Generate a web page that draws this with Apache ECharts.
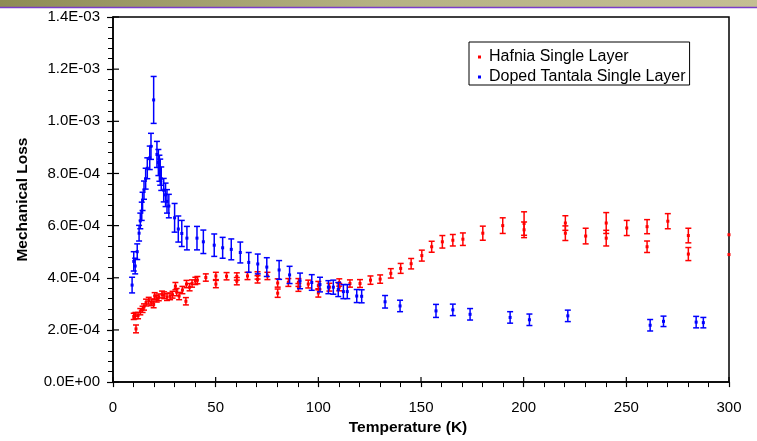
<!DOCTYPE html>
<html>
<head>
<meta charset="utf-8">
<title>Mechanical Loss vs Temperature</title>
<script src="https://cdn.jsdelivr.net/npm/echarts@6/dist/echarts.min.js"></script>
<style>
  html, body { margin: 0; padding: 0; background: #fff; }
  #chart { width: 757px; height: 441px; }
</style>
</head>
<body>
<div id="chart"></div>
<script>
// Mechanical loss values are listed in units of 1e-4.
const LOSS_UNIT = 1e-4;

// Hafnia single layer: temperature (K), loss, error half-width
const hafniaT = [10.1, 10.9, 11.2, 12.2, 13.3, 14.4, 15.1, 16.1, 17.4, 18.7, 19.8, 20.3, 21.3, 22.3, 23.9, 24.9, 26.3, 27.8, 29.0, 30.4, 31.0, 32.2, 33.8, 35.5, 35.8, 37.3, 38.5, 40.1, 41.1, 45.2, 50.1, 50.1, 55.3, 60.3, 60.3, 65.5, 70.4, 70.4, 75.2, 80.2, 80.2, 85.4, 90.3, 90.3, 95.1, 100.0, 100.0, 105.4, 110.2, 110.2, 115.4, 120.3, 125.4, 130.1, 135.3, 140.1, 145.2, 150.4, 155.2, 160.4, 165.5, 170.4, 180.1, 189.8, 200.2, 200.2, 220.3, 220.3, 230.2, 240.2, 240.2, 250.2, 260.1, 260.1, 270.2, 280.2, 280.2, 300.0, 300.0];
const hafniaLoss = [2.52, 2.55, 2.04, 2.55, 2.70, 2.79, 2.88, 3.05, 3.12, 3.06, 2.98, 3.30, 3.20, 3.25, 3.36, 3.33, 3.26, 3.29, 3.35, 3.68, 3.45, 3.30, 3.53, 3.10, 3.76, 3.64, 3.78, 3.88, 3.91, 4.01, 4.07, 3.76, 4.06, 4.05, 3.87, 4.07, 4.09, 3.94, 4.07, 3.80, 3.41, 3.82, 3.82, 3.63, 3.76, 3.70, 3.42, 3.64, 3.82, 3.64, 3.78, 3.78, 3.91, 3.95, 4.17, 4.36, 4.54, 4.85, 5.19, 5.38, 5.44, 5.48, 5.71, 6.00, 6.08, 5.84, 6.10, 5.71, 5.60, 6.10, 5.52, 5.91, 5.96, 5.19, 6.17, 5.62, 4.91, 5.65, 4.89];
const hafniaErr = [0.12, 0.12, 0.15, 0.12, 0.12, 0.12, 0.12, 0.13, 0.13, 0.13, 0.13, 0.13, 0.13, 0.13, 0.13, 0.13, 0.13, 0.13, 0.13, 0.14, 0.14, 0.14, 0.14, 0.14, 0.14, 0.14, 0.14, 0.14, 0.14, 0.14, 0.14, 0.14, 0.14, 0.14, 0.14, 0.14, 0.14, 0.14, 0.14, 0.16, 0.16, 0.15, 0.15, 0.15, 0.15, 0.16, 0.16, 0.15, 0.14, 0.14, 0.14, 0.15, 0.16, 0.16, 0.18, 0.19, 0.20, 0.21, 0.21, 0.24, 0.22, 0.24, 0.27, 0.30, 0.45, 0.30, 0.28, 0.28, 0.30, 0.40, 0.30, 0.29, 0.27, 0.22, 0.29, 0.28, 0.25, 0, 0];

// Doped tantala single layer: temperature (K), loss, error half-width
const tantalaT = [9.3, 10.1, 10.8, 11.8, 12.7, 13.3, 14.0, 14.4, 15.1, 15.9, 16.7, 17.9, 18.5, 19.8, 21.4, 22.1, 22.6, 23.0, 23.5, 24.7, 25.6, 26.3, 27.2, 30.0, 31.8, 33.5, 36.0, 40.9, 44.0, 49.3, 53.4, 57.6, 62.0, 66.1, 70.5, 74.9, 80.9, 86.0, 91.1, 96.8, 100.8, 104.9, 107.3, 109.7, 112.2, 114.1, 118.7, 121.1, 132.5, 139.8, 157.3, 165.5, 173.9, 193.4, 202.8, 221.5, 261.6, 268.1, 284.0, 287.5];
const tantalaLoss = [3.72, 4.63, 4.45, 5.00, 5.71, 6.18, 6.55, 6.93, 7.36, 7.80, 8.20, 8.60, 9.04, 10.82, 8.73, 8.42, 8.20, 8.05, 7.80, 7.36, 7.18, 6.93, 6.75, 6.30, 5.87, 5.70, 5.52, 5.52, 5.38, 5.25, 5.15, 5.09, 4.97, 4.59, 4.53, 4.41, 4.30, 4.11, 3.88, 3.82, 3.74, 3.64, 3.64, 3.55, 3.47, 3.47, 3.30, 3.29, 3.08, 2.92, 2.73, 2.77, 2.60, 2.48, 2.39, 2.54, 2.18, 2.33, 2.30, 2.28];
const tantalaErr = [0.30, 0.37, 0.30, 0.30, 0.30, 0.30, 0.35, 0.35, 0.35, 0.40, 0.40, 0.45, 0.50, 0.90, 0.50, 0.50, 0.50, 0.50, 0.45, 0.45, 0.45, 0.45, 0.45, 0.55, 0.50, 0.50, 0.45, 0.45, 0.45, 0.43, 0.40, 0.40, 0.40, 0.38, 0.38, 0.36, 0.36, 0.33, 0.30, 0.30, 0.28, 0.25, 0.27, 0.27, 0.27, 0.27, 0.25, 0.25, 0.24, 0.22, 0.25, 0.22, 0.22, 0.22, 0.22, 0.22, 0.22, 0.20, 0.22, 0.20];

// Axis ticks
const xTicks = [0, 50, 100, 150, 200, 250, 300];
const yTicks = [0, 2e-4, 4e-4, 6e-4, 8e-4, 10e-4, 12e-4, 14e-4];

const seriesNames = ['Hafnia Single Layer', 'Doped Tantala Single Layer'];
const seriesColors = ['#ff0000', '#0000ff'];

function rows(t, loss, err) {
  return t.map((v, i) => [v, loss[i] * LOSS_UNIT, err[i] * LOSS_UNIT]);
}

// 1.4E-03 style labels
function sci(v) {
  const parts = v.toExponential(1).split('e');
  const n = parseInt(parts[1], 10);
  return parts[0] + 'E' + (n < 0 ? '-' : '+') + String(Math.abs(n)).padStart(2, '0');
}

// point with vertical error bar and caps
function errorBar(color) {
  return function (params, api) {
    const x = api.value(0), y = api.value(1), e = api.value(2);
    const c = api.coord([x, y]);
    const hi = api.coord([x, y + e])[1];
    const lo = api.coord([x, y - e])[1];
    const cap = 3;
    const line = { stroke: color, lineWidth: 1.5, fill: null };
    const children = [
      { type: 'rect', shape: { x: c[0] - 1.5, y: c[1] - 1.5, width: 3, height: 3 }, style: { fill: color } }
    ];
    if (e > 0) {
      children.push(
        { type: 'line', shape: { x1: c[0], y1: hi, x2: c[0], y2: lo }, style: line },
        { type: 'line', shape: { x1: c[0] - cap, y1: hi, x2: c[0] + cap, y2: hi }, style: line },
        { type: 'line', shape: { x1: c[0] - cap, y1: lo, x2: c[0] + cap, y2: lo }, style: line }
      );
    }
    return { type: 'group', children: children };
  };
}

// inward half of each major tick, so the major ticks cross the axis line
function innerTick(dx, dy) {
  return function (params, api) {
    const p = api.coord([api.value(0), api.value(1)]);
    return {
      type: 'line',
      shape: { x1: p[0], y1: p[1], x2: p[0] + dx, y2: p[1] + dy },
      style: { stroke: '#000', lineWidth: 1.2 }
    };
  };
}

const GRID = { left: 113, right: 28, top: 17, bottom: 48.5 };
const font = 'Liberation Sans, Arial, sans-serif';

const chart = echarts.init(document.getElementById('chart'), null, { renderer: 'canvas' });

chart.setOption({
  backgroundColor: '#ffffff',
  animation: false,
  tooltip: { show: false },
  graphic: [
    {
      type: 'rect',
      shape: { x: 0, y: 0, width: 757, height: 7 },
      style: {
        fill: new echarts.graphic.LinearGradient(0, 0, 1, 0, [
          { offset: 0, color: '#8e8c55' },
          { offset: 0.5, color: '#b5b283' },
          { offset: 1, color: '#c4bf93' }
        ])
      },
      silent: true
    },
    {
      type: 'line',
      shape: { x1: 0, y1: 7.5, x2: 757, y2: 7.5 },
      style: { stroke: '#7a3cc8', lineWidth: 1.5 },
      silent: true
    }
  ],
  grid: Object.assign({ show: true, borderColor: '#000', borderWidth: 1.5, backgroundColor: 'transparent' }, GRID),
  legend: {
    orient: 'vertical',
    left: 469,
    top: 42,
    data: seriesNames.map(n => ({ name: n, icon: 'rect' })),
    itemWidth: 3,
    itemHeight: 3,
    itemGap: 4,
    padding: [7, 4, 0, 9],
    borderColor: '#000',
    borderWidth: 1,
    textStyle: { fontFamily: font, fontSize: 16, color: '#000', padding: [0, 0, 0, 3] }
  },
  xAxis: {
    type: 'value',
    min: xTicks[0],
    max: xTicks[xTicks.length - 1],
    interval: xTicks[1] - xTicks[0],
    name: 'Temperature (K)',
    nameLocation: 'middle',
    nameGap: 33,
    nameTextStyle: { fontFamily: font, fontSize: 15.5, fontWeight: 'bold', color: '#000', padding: [0, 26, 0, 0] },
    axisLine: { show: true, lineStyle: { color: '#000', width: 1.5 } },
    axisTick: { show: true, inside: false, length: 5, lineStyle: { color: '#000', width: 1.2 } },
    minorTick: { show: true, splitNumber: 5, length: 5, lineStyle: { color: '#000', width: 1 } },
    axisLabel: { margin: 18, fontFamily: font, fontSize: 15, color: '#000' },
    splitLine: { show: false }
  },
  yAxis: {
    type: 'value',
    min: yTicks[0],
    max: yTicks[yTicks.length - 1],
    interval: yTicks[1] - yTicks[0],
    name: 'Mechanical Loss',
    nameLocation: 'middle',
    nameGap: 82,
    nameTextStyle: { fontFamily: font, fontSize: 15.5, fontWeight: 'bold', color: '#000' },
    axisLine: { show: true, lineStyle: { color: '#000', width: 1.5 } },
    axisTick: { show: true, inside: false, length: 6, lineStyle: { color: '#000', width: 1.2 } },
    minorTick: { show: true, splitNumber: 5, length: 5, lineStyle: { color: '#000', width: 1 } },
    axisLabel: { margin: 13, fontFamily: font, fontSize: 15, color: '#000', formatter: sci },
    splitLine: { show: false }
  },
  series: [
    {
      name: 'xInnerTicks',
      type: 'custom',
      silent: true,
      clip: false,
      renderItem: innerTick(0, -5),
      data: xTicks.map(v => [v, yTicks[0]])
    },
    {
      name: 'yInnerTicks',
      type: 'custom',
      silent: true,
      clip: false,
      renderItem: innerTick(6, 0),
      data: yTicks.map(v => [xTicks[0], v])
    },
    {
      name: seriesNames[0],
      type: 'custom',
      itemStyle: { color: seriesColors[0] },
      renderItem: errorBar(seriesColors[0]),
      encode: { x: 0, y: 1 },
      data: rows(hafniaT, hafniaLoss, hafniaErr)
    },
    {
      name: seriesNames[1],
      type: 'custom',
      itemStyle: { color: seriesColors[1] },
      renderItem: errorBar(seriesColors[1]),
      encode: { x: 0, y: 1 },
      data: rows(tantalaT, tantalaLoss, tantalaErr)
    }
  ]
});
</script>
</body>
</html>
